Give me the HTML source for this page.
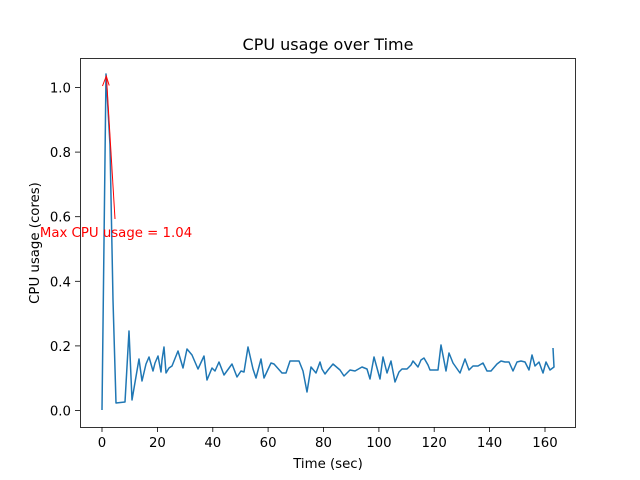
<!DOCTYPE html>
<html><head><style>body{margin:0;background:#fff}svg{display:block}text{font-family:"DejaVu Sans",sans-serif}</style></head>
<body>
<svg width="640" height="480" viewBox="0 0 640 480">
<rect width="640" height="480" fill="#fff"/>
<polyline fill="none" stroke="#1f77b4" stroke-width="1.5" stroke-linejoin="round" points="102,410 106,74 110,145 113,300 116,403 125,402 129,331 132,400 139,359 142,381 146,364 149,357 153,371 155,363 158,356 161,372 162,360 164,347 166,373 169,368 172,366 178,351 183,368 187,349 192,355 198,369 204,356 207,380 212,368 215,371 219,362 224,375 232,364 237,377 241,371 244,372 248,347 253,369 256,378 261,359 264,378 271,363 274,364 282,373 286,373 290,361 299,361 303,371 307,392 311,367 316,373 320,362 322,369 325,374 328,370 333,364 340,370 344,376 350,370 355,371 362,367 367,369 370,379 374,357 380,379 383,357 387,373 391,361 395,382 399,372 402,369 407,369 411,365 413,361 418,367 421,360 424,358 428,365 430,370 433,370 438,370 441,345 446,371 449,353 453,363 460,373 465,359 469,370 473,366 478,366 483,363 487,371 491,371 497,364 501,361 505,362 509,362 513,371 517,362 521,361 525,362 529,370 532,355 535,366 539,362 543,373 546,362 550,370 554,367 553,348"/>
<rect x="80.5" y="58.5" width="495" height="369" fill="none" stroke="#000" stroke-width="0.8"/>
<g stroke="#000" stroke-width="0.8">
<line x1="102" y1="427" x2="102" y2="432"/><line x1="157.4" y1="427" x2="157.4" y2="432"/><line x1="212.8" y1="427" x2="212.8" y2="432"/><line x1="268.1" y1="427" x2="268.1" y2="432"/><line x1="323.5" y1="427" x2="323.5" y2="432"/><line x1="378.9" y1="427" x2="378.9" y2="432"/><line x1="434.2" y1="427" x2="434.2" y2="432"/><line x1="489.6" y1="427" x2="489.6" y2="432"/><line x1="545" y1="427" x2="545" y2="432"/>
<line x1="75" y1="410.5" x2="80" y2="410.5"/><line x1="75" y1="345.9" x2="80" y2="345.9"/><line x1="75" y1="281.3" x2="80" y2="281.3"/><line x1="75" y1="216.7" x2="80" y2="216.7"/><line x1="75" y1="152.1" x2="80" y2="152.1"/><line x1="75" y1="87.5" x2="80" y2="87.5"/>
</g>
<g font-size="13.3" text-anchor="middle" fill="#000">
<text x="102" y="447">0</text><text x="157.4" y="447">20</text><text x="212.8" y="447">40</text><text x="268.1" y="447">60</text><text x="323.5" y="447">80</text><text x="378.9" y="447">100</text><text x="434.2" y="447">120</text><text x="489.6" y="447">140</text><text x="545" y="447">160</text>
</g>
<g font-size="13.3" text-anchor="end" fill="#000">
<text x="71" y="415.5">0.0</text><text x="71" y="350.9">0.2</text><text x="71" y="286.3">0.4</text><text x="71" y="221.7">0.6</text><text x="71" y="157.1">0.8</text><text x="71" y="92.5">1.0</text>
</g>
<text x="328" y="468" font-size="13.3" text-anchor="middle">Time (sec)</text>
<text transform="translate(39,243) rotate(-90)" font-size="13.3" text-anchor="middle">CPU usage (cores)</text>
<text x="328" y="50" font-size="16" text-anchor="middle">CPU usage over Time</text>
<line x1="115" y1="219" x2="106.5" y2="78" stroke="red" stroke-width="1"/>
<path d="M102.5,86 L106.3,76 L109.2,85.5" fill="none" stroke="red" stroke-width="1"/>
<text x="116" y="237" font-size="13.3" text-anchor="middle" fill="red">Max CPU usage = 1.04</text>
</svg>
</body></html>
